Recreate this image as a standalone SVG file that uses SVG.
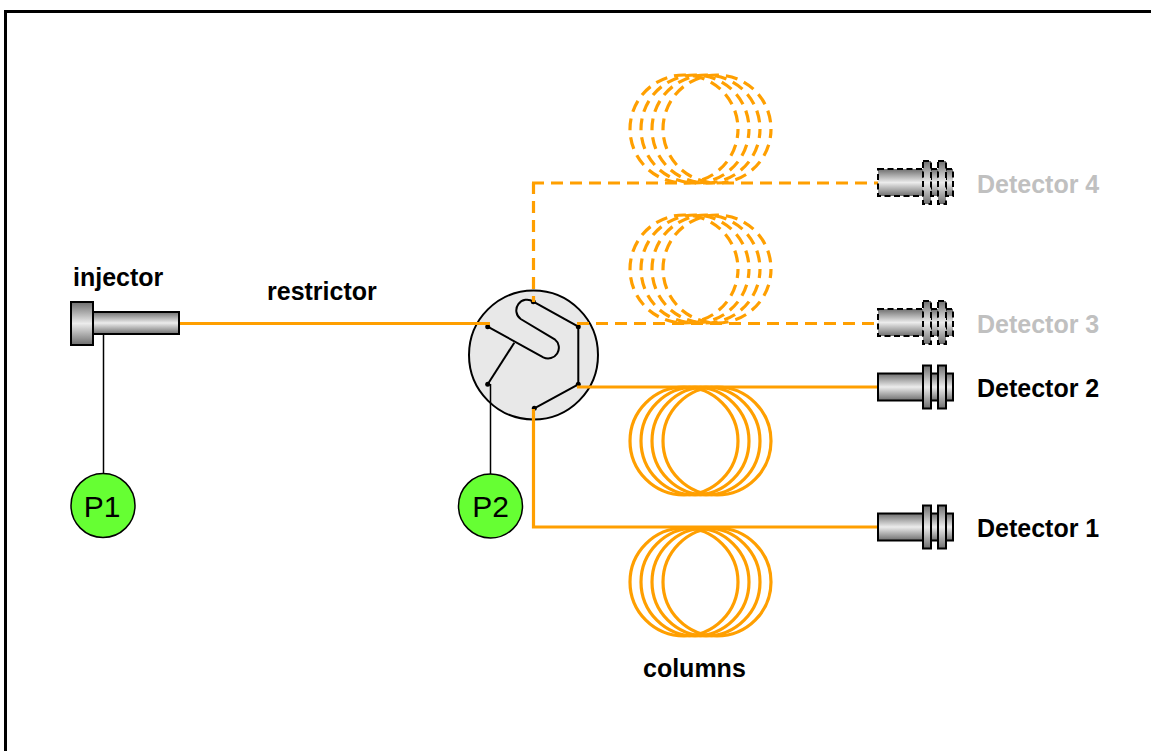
<svg xmlns="http://www.w3.org/2000/svg" width="1151" height="751" viewBox="0 0 1151 751">
<style>
text{font-family:"Liberation Sans",Arial,sans-serif}
.lbl{font-size:25px;font-weight:bold;fill:#000}
.off{fill:#c0c0c0}
.pump{fill:#66ff33;stroke:#000;stroke-width:1.500}
.ptxt{font-size:30px;fill:#000;text-anchor:middle}
.flow{fill:none;stroke:#ff9f00;stroke-width:3.200}
.dash{stroke-dasharray:12 7}
.coil{fill:none;stroke:#ff9f00;stroke-width:3.200}
.dashcoil{stroke-dasharray:12 7;stroke-dashoffset:3}
.wire{fill:none;stroke:#000;stroke-width:2}
.thin{fill:none;stroke:#000;stroke-width:1.500}
.part{fill:url(#metal);stroke:#000;stroke-width:2}
.off-part use{stroke-dasharray:6 3.500}
</style>
<defs>
<linearGradient id="metal" x1="0" y1="0" x2="0" y2="1">
<stop offset="0" stop-color="#6e6e6e"/>
<stop offset="0.5" stop-color="#ececec"/>
<stop offset="1" stop-color="#6e6e6e"/>
</linearGradient>
<g id="detector">
<rect class="part" x="878" y="-14" width="45" height="27"/>
<rect class="part" x="931" y="-14" width="7" height="27"/>
<rect class="part" x="946" y="-14" width="7" height="27"/>
<rect class="part" x="923" y="-22" width="8" height="43"/>
<rect class="part" x="938" y="-22" width="8" height="43"/>
</g>
<g id="coil">
<circle class="coil" cx="684" cy="0" r="54"/>
<circle class="coil" cx="695" cy="0" r="54"/>
<circle class="coil" cx="706" cy="0" r="54"/>
<circle class="coil" cx="717" cy="0" r="54"/>
</g>
</defs>
<rect width="1151" height="751" fill="#fff"/>
<path d="M5.500,751V11.500H1151" fill="none" stroke="#000" stroke-width="3"/>

<g id="column-4"><use href="#coil" y="129" class="dashcoil"/></g>
<g id="column-3"><use href="#coil" y="269" class="dashcoil"/></g>
<g id="column-2"><use href="#coil" y="441"/></g>
<g id="column-1"><use href="#coil" y="582"/></g>

<g id="valve">
<circle cx="533.500" cy="355" r="64.500" fill="#e8e8e8" stroke="#000" stroke-width="2"/>
<path class="wire" d="M487.700,326.700L543.300,357.300A10.700,10.700 0 0 0 554.700,339.300L520.700,319A10.700,10.700 0 0 1 533.300,301.700L578.300,326.700V384.300L534.300,408.300"/>
<path class="wire" d="M514.300,342.700L487.700,384.300"/>
<circle cx="487.700" cy="326.700" r="2.500"/>
<circle cx="487.700" cy="384.300" r="2.500"/>
<circle cx="533.300" cy="301.700" r="2.500"/>
<circle cx="578.300" cy="326.700" r="2.500"/>
<circle cx="578.300" cy="384.300" r="2.500"/>
<circle cx="534.300" cy="408.300" r="2.500"/>
</g>

<g id="connectors">
<path class="flow" d="M179,323.500H490"/>
<path class="flow dash" d="M577,323.500H878"/>
<path class="flow" d="M577,387H878"/>
<path class="flow" d="M533.500,409V527H878"/>
<path class="flow dash" style="stroke-dashoffset:6" d="M533.500,302V183"/>
<path class="flow dash" d="M532,183H878"/>
<path class="thin" d="M103.500,334V473"/>
<path class="thin" d="M490.500,384V474"/>
</g>

<g id="injector">
<rect class="part" x="93" y="312" width="86" height="22"/>
<rect class="part" x="71" y="302" width="22" height="43"/>
<text class="lbl" x="73" y="286">injector</text>
</g>
<text class="lbl" x="267" y="300">restrictor</text>

<g id="P1"><circle class="pump" cx="103" cy="505.500" r="32"/><text class="ptxt" x="102" y="517">P1</text></g>
<g id="P2"><circle class="pump" cx="490.500" cy="506" r="32"/><text class="ptxt" x="490.500" y="517">P2</text></g>

<g id="detector-4" class="off-part"><use href="#detector" y="183"/><text class="lbl off" x="977" y="193">Detector 4</text></g>
<g id="detector-3" class="off-part"><use href="#detector" y="323"/><text class="lbl off" x="977" y="333">Detector 3</text></g>
<g id="detector-2"><use href="#detector" y="387.500"/><text class="lbl" x="977" y="397">Detector 2</text></g>
<g id="detector-1"><use href="#detector" y="527.500"/><text class="lbl" x="977" y="537">Detector 1</text></g>

<text class="lbl" x="643" y="677">columns</text>
</svg>
